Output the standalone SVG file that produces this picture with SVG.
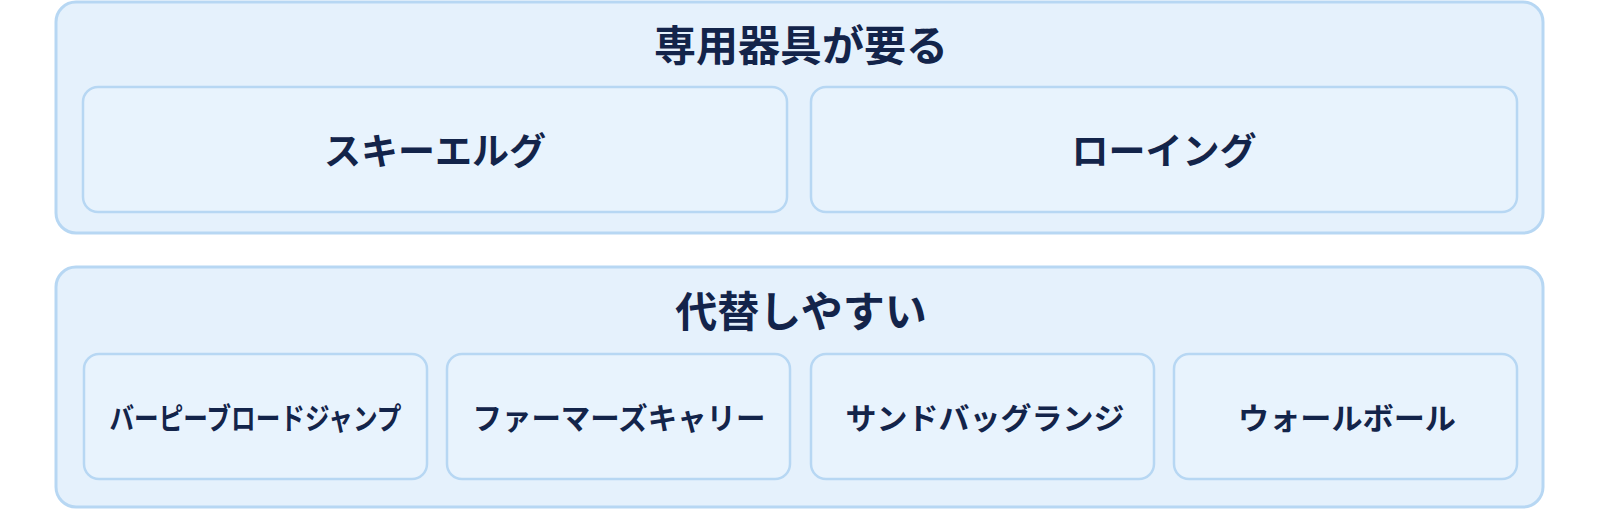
<svg xmlns="http://www.w3.org/2000/svg" width="1600" height="509" viewBox="0 0 1600 509">
<style>
.outer{fill:#e5f1fc;stroke:#b7d7f3;stroke-width:3}
.inner{fill:#e8f3fd;stroke:#b7d7f3;stroke-width:2.5}
.t{font-family:"Noto Sans CJK JP","Noto Sans",sans-serif;font-weight:700;fill:#13244a;text-anchor:middle;dominant-baseline:central}
.h{font-size:42px}
.m{font-size:37px}
.s{font-size:30px}
</style>
<rect width="1600" height="509" fill="#ffffff"/>
<g id="group-special">
<rect class="outer" x="56" y="2" width="1487" height="231" rx="20"/>
<text class="t h" x="801" y="42">専用器具が要る</text>
</g>
<g id="node-skierg">
<rect class="inner" x="83" y="87" width="704" height="125" rx="15"/>
<text class="t m" x="435" y="149">スキーエルグ</text>
</g>
<g id="node-rowing">
<rect class="inner" x="811" y="87" width="706" height="125" rx="15"/>
<text class="t m" x="1164" y="149">ローイング</text>
</g>
<g id="group-substitute">
<rect class="outer" x="56" y="267" width="1487" height="240" rx="20"/>
<text class="t h" x="801" y="308">代替しやすい</text>
</g>
<g id="node-burpee">
<rect class="inner" x="84" y="354" width="343" height="125" rx="15"/>
<text class="t s" x="255.5" y="416" textLength="292" lengthAdjust="spacingAndGlyphs">バーピーブロードジャンプ</text>
</g>
<g id="node-farmers">
<rect class="inner" x="447" y="354" width="343" height="125" rx="15"/>
<text class="t s" x="619" y="416" textLength="293" lengthAdjust="spacingAndGlyphs">ファーマーズキャリー</text>
</g>
<g id="node-sandbag">
<rect class="inner" x="811" y="354" width="343" height="125" rx="15"/>
<text class="t s" x="985" y="416" textLength="279" lengthAdjust="spacingAndGlyphs">サンドバッグランジ</text>
</g>
<g id="node-wallball">
<rect class="inner" x="1174" y="354" width="343" height="125" rx="15"/>
<text class="t s" x="1347" y="416" textLength="218" lengthAdjust="spacingAndGlyphs">ウォールボール</text>
</g>
<g id="connectors"></g>
</svg>
